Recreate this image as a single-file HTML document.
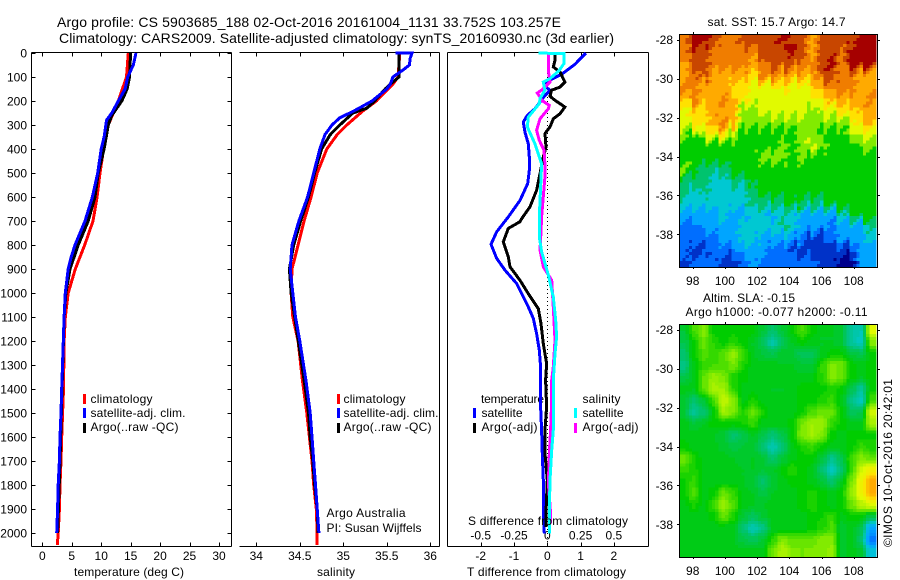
<!DOCTYPE html>
<html>
<head>
<meta charset="utf-8">
<title>Argo profile</title>
<style>
html,body{margin:0;padding:0;background:#fff;width:900px;height:580px;overflow:hidden}
svg{display:block;font-family:"Liberation Sans",sans-serif;fill:#000}
text{font-size:12px;fill:#000}
.t14{font-size:14px}
</style>
</head>
<body>
<svg id="chart" width="900" height="580" viewBox="0 0 900 580" xmlns="http://www.w3.org/2000/svg">
  <rect width="900" height="580" fill="#fff"/>
  <text class="t14" x="57" y="27" textLength="504">Argo profile: CS 5903685_188 02-Oct-2016 20161004_1131 33.752S 103.257E</text>
  <text class="t14" x="59" y="43" textLength="555">Climatology: CARS2009. Satellite-adjusted climatology: synTS_20160930.nc (3d earlier)</text>

  <g id="maps"></g>
  <g id="axes"></g>

  <g>
    <rect x="83" y="394" width="3" height="10" fill="#f00"/>
    <text x="90.5" y="403" textLength="62">climatology</text>
    <rect x="83" y="408" width="3" height="10" fill="#00f"/>
    <text x="90.5" y="417" textLength="95">satellite-adj. clim.</text>
    <rect x="83" y="423" width="3" height="10" fill="#000"/>
    <text x="90.5" y="431" textLength="88">Argo(..raw -QC)</text>
  </g>
  <g>
    <rect x="337" y="394" width="3" height="10" fill="#f00"/>
    <text x="343.5" y="403" textLength="62">climatology</text>
    <rect x="337" y="408" width="3" height="10" fill="#00f"/>
    <text x="343.5" y="417" textLength="95">satellite-adj. clim.</text>
    <rect x="337" y="423" width="3" height="10" fill="#000"/>
    <text x="343.5" y="431" textLength="88">Argo(..raw -QC)</text>
  </g>
  <g>
    <text x="481" y="403" textLength="63">temperature</text>
    <rect x="473" y="408" width="3" height="10" fill="#00f"/>
    <text x="481.5" y="417" textLength="41">satellite</text>
    <rect x="473" y="423" width="3" height="10" fill="#000"/>
    <text x="481.5" y="431" textLength="56">Argo(-adj)</text>
    <text x="582.5" y="403" textLength="38">salinity</text>
    <rect x="574" y="408" width="3" height="10" fill="#0ff"/>
    <text x="582.5" y="417" textLength="41">satellite</text>
    <rect x="574" y="423" width="3" height="10" fill="#f0f"/>
    <text x="582.5" y="431" textLength="56">Argo(-adj)</text>
  </g>

  <g id="lines"></g>

  <text x="74" y="576" textLength="110">temperature (deg C)</text>
  <text x="317" y="576" textLength="38">salinity</text>
  <text x="467" y="576" textLength="159">T difference from climatology</text>
  <text x="468" y="525" textLength="160">S difference from climatology</text>
  <text x="326.5" y="517" textLength="79">Argo Australia</text>
  <text x="326.5" y="532" textLength="95">PI: Susan Wijffels</text>
  <text x="707.5" y="26" textLength="138">sat. SST: 15.7 Argo: 14.7</text>
  <text x="703" y="302" textLength="92">Altim. SLA: -0.15</text>
  <text x="685.5" y="316" textLength="182">Argo h1000: -0.077 h2000: -0.11</text>
  <text transform="translate(892 547) rotate(-90)" textLength="168">©IMOS 10-Oct-2016 20:42:01</text>
</svg>

<script>
// ---------- profile data (depth in dbar) ----------
const tempDepthTicks = [0,100,200,300,400,500,600,700,800,900,1000,1100,1200,1300,1400,1500,1600,1700,1800,1900,2000];
const temperatureTicks = [0,5,10,15,20,25,30];
const salinityTicks = [34,34.5,35,35.5,36];
const salinityTickLabels = ['34','34.5','35','35.5','36'];
const tDiffTicks = [-2,-1,0,1,2];
const sDiffTicks = [-0.5,-0.25,0,0.25,0.5];
const sDiffTickLabels = ['-0.5','-0.25','0','0.25','0.5'];
const lonTicks = [98,100,102,104,106,108];
const latTicks = [-28,-30,-32,-34,-36,-38];

const climTempDepth = [0,100,200,300,400,500,600,700,800,900,1000,1100,1200,1400,1500,1600,1700,1800,1900,2000,2050];
const climTemp = [14.6,14.3,12.9,11.2,10.4,9.8,9.3,8.6,7.2,5.6,4.4,3.9,3.7,3.6,3.45,3.3,3.18,3.0,2.9,2.7,2.55];
const satTempDepth = [0,50,100,150,200,250,280,350,400,500,600,700,800,850,900,1000,1100,1400,1500,1600,1700,1800,1900,2000];
const satTemp = [15.9,15.45,14.5,14.05,12.9,11.8,10.9,10.5,10,9.4,8.5,7.25,5.55,4.9,4.4,3.9,3.7,3.3,3.18,3,2.9,2.7,2.6,2.45];
const argoTempDepth = [0,100,150,200,260,300,400,500,600,700,800,900,1000,1100,1400,1700,2000];
const argoTemp = [15,14.8,14.4,13.5,11.8,11.2,10.5,9.5,8.95,7.8,6.1,4.7,4,3.7,3.35,3,2.6];

const climSalDepth = [0,100,130,200,240,300,340,400,500,600,700,800,900,1000,1100,1200,1363,1500,1600,1700,1800,1900,2000,2050];
const climSal = [35.65,35.63,35.57,35.38,35.23,35.04,34.93,34.81,34.70,34.63,34.55,34.48,34.41,34.40,34.42,34.48,34.53,34.58,34.61,34.64,34.66,34.69,34.70,34.70];
const satSalDepth = [0,0,20,50,70,100,130,150,200,240,270,300,340,400,500,600,700,800,900,1000,1100,1200,1363,1500,1600,1700,1800,1900,2000];
const satSal = [35.60,35.79,35.77,35.76,35.69,35.57,35.54,35.50,35.33,35.13,34.96,34.87,34.79,34.73,34.66,34.59,34.49,34.41,34.39,34.42,34.45,34.50,34.57,34.62,34.64,34.66,34.68,34.70,34.72];
const argoSalDepth = [0,100,130,150,200,230,250,300,340,400,500,600,700,800,900,1000,1363,1500,1600,1700,1800,1900,2000];
const argoSal = [35.64,35.64,35.54,35.48,35.36,35.27,35.11,34.96,34.85,34.75,34.67,34.60,34.51,34.43,34.38,34.40,34.55,34.60,34.62,34.65,34.67,34.70,34.71];

const satDiffTDepth = [0,47,86,121,142,155,186,232,260,288,330,378,433,489,544,614,683,745,797,856,905,961,1058,1106,1169,1238,1308,1363,1474,1571,1670,1780,1915,2002];
const satDiffT = [1.16,.83,.46,-.02,-.04,.08,-.12,-.37,-.6,-.72,-.67,-.57,-.54,-.54,-.59,-.82,-1.17,-1.52,-1.69,-1.52,-1.27,-.92,-.57,-.42,-.32,-.24,-.2,-.2,-.2,-.17,-.15,-.12,-.12,-.09];
const argoDiffTDepth = [0,30,58,79,121,142,155,180,197,225,253,274,308,336,392,433,503,572,641,690,703,731,787,849,891,947,1003,1065,1128,1211,1294,1363,1474,1570,1670,1780,1915,1975];
const argoDiffT = [.23,.23,.18,.38,.53,.38,.13,.08,.23,.53,.38,.18,.08,-.07,-.04,-.12,-.22,-.32,-.52,-.77,-.82,-1.17,-1.32,-1.17,-1.12,-.82,-.57,-.27,-.19,-.12,-.02,-.05,-.02,-.07,-.07,0,-.04,-.04];
const satDiffSDepth = [0,3,44,72,107,121,155,190,211,267,308,378,461,530,683,766,828,926,1017,1114,1183,1253,1363,1474,1571,1655,1780,1919,2002];
const satDiffS = [-.065,.125,.125,.09,.02,-.03,-.018,-.055,-.06,-.143,-.15,-.093,-.043,-.048,-.06,-.06,-.043,.008,.045,.063,.07,.058,.045,.045,.045,.033,.02,.015,.015];
const argoDiffSDepth = [3,72,121,149,167,183,197,218,232,274,322,364,405,461,517,683,752,821,891,947,1058,1197,1308,1363,1446,1571,1669,1794,1919,1960];
const argoDiffS = [.0075,.0075,.02,-.03,-.075,-.055,-.043,.015,.008,-.055,-.08,-.06,-.025,-.018,-.018,-.043,-.048,-.055,-.03,.033,.045,.058,.045,.033,.033,.025,.015,.008,.025,.025];

// ---------- map data: colour level per cell, top row = 28S, left col = 97.2E ----------
const sstGrid = [
[11,13,13,12,11,11,12,12,12,12,13,12,12,10,12,12,12,12,13,13],
[11,12,12,11,11,11,11,11,12,12,12,13,12,10,12,12,11,13,13,13],
[10,12,12,11,11,11,11,10,11,12,12,12,11,11,12,13,11,13,13,13],
[10,11,12,10,10,10,10,9,11,11,10,10,10,10,12,12,11,11,10,10],
[11,11,10,10,10,9,9,8,8,8,9,8,8,9,10,11,11,11,10,10],
[9,11,10,10,11,10,9,8,8,8,8,8,8,8,9,10,10,10,10,11],
[8,9,9,10,10,10,7,7,8,8,8,8,8,7,8,8,9,9,10,10],
[8,9,9,10,11,10,7,7,7,7,7,7,7,7,7,7,7,8,9,10],
[7,6,8,9,9,7,6,6,6,6,6,6,7,7,6,6,6,7,8,8],
[6,6,6,6,6,6,6,6,6,6,7,6,7,8,7,6,6,6,7,7],
[6,6,6,6,6,6,6,6,7,7,7,6,7,6,6,6,6,6,6,6],
[7,6,5,5,5,6,6,6,6,6,6,6,6,6,6,6,6,6,6,6],
[5,5,5,4,4,5,5,6,6,6,6,6,6,6,6,6,6,6,6,6],
[5,4,5,4,4,4,4,5,6,6,6,6,6,6,6,6,6,6,6,6],
[4,4,4,4,4,4,4,5,5,5,5,6,5,5,5,6,6,6,6,6],
[3,3,3,3,4,3,3,4,4,3,4,4,3,3,3,3,4,5,6,6],
[2,2,3,3,3,3,4,4,4,4,5,4,3,3,3,2,3,3,3,5],
[2,2,2,2,3,3,4,4,3,3,3,3,2,1,1,2,3,3,3,4],
[2,1,1,2,2,2,3,3,3,2,2,1,1,1,1,1,1,1,3,3],
[1,2,2,2,1,1,2,3,2,2,2,2,2,2,1,1,0,0,3,3]
];
const slaGrid = [
[5.5,6.5,7,6,6,6,6,6,5.5,5,5.5,6,6.5,6,5.7,5.7,5.5,4.5,4.3,8],
[5.3,6,6.8,6.3,6,6.3,6,5.7,5.2,4.4,5.2,5.7,6,5.8,5.7,5.7,5.5,4.5,4.2,7],
[5,6,6.6,6.3,6.7,7.2,6.5,5.7,5.5,5.3,5.6,5.5,5.2,5.2,5.7,6,6,5.5,5.3,6],
[4.8,5.8,6.4,6.5,6.5,6.9,6.2,5.8,5.8,5.8,5.7,5.7,5.5,5.5,6.3,6.9,6.9,6,5.8,6],
[5.3,5.8,6.7,7.2,6.9,6.2,6,5.8,5.8,5.8,5.8,5.8,5.8,5.8,6.3,7,6.8,6,5.7,6],
[5.8,5.7,6.7,7.4,7.3,6.3,5.8,5.8,5.7,5.7,5.7,5.8,6,6,6,6.2,6,5.3,4.6,6],
[5.6,5,5.5,6.5,7.7,7.1,5.8,6.2,5.8,5.7,5.7,5.8,6,6,6.2,6.4,5.8,4.8,4.2,6.5],
[5.5,4.6,5,5.9,7.3,6.9,6.2,6.8,6.2,5.8,5.8,5.8,6.1,6.6,6.8,6.8,6,5.2,5.3,7.8],
[5.8,5.5,5.7,6,6,6,6.1,6.4,5.8,5.8,5.8,6,6.9,7.3,7.2,6.4,6,5.8,5.8,7.3],
[5.8,5.8,5.8,5.7,5.5,5,5.3,5.7,5.3,4.9,5.3,6,7,7.3,7,6,5.8,6,6,6],
[6,5.8,5.8,5.8,5.6,5.4,5.5,5.6,5,4.3,4.9,5.8,6.2,6.4,6,5.8,5.8,6,6.4,6.2],
[6.8,6.2,5.8,5.8,5.8,5.7,5.6,5.7,5.5,5,5.5,5.8,6,6,5.5,4.7,5.3,6.4,7,6.7],
[6.4,6.2,5.8,5.8,5.8,5.8,5.7,5.7,5.5,5.6,6,6.3,6,5.8,5,4.2,5,6.4,7.8,8.5],
[6,6.4,5.8,5.8,5.8,5.8,5.7,5.5,5,5.5,5.8,6,6,5.8,5.5,5,5.7,6.9,8.3,10],
[6,6.6,5.8,6,6.8,6.4,5.8,5.7,5.4,5.7,5.8,5.8,6,6.2,6,5.8,6,7.2,8.3,10],
[5.8,6.2,5.8,6.4,7.2,6.6,5.8,5.7,5.7,5.8,5.8,5.8,6,6.3,6,5.8,6,6.8,7.5,8],
[5.8,5.8,5.8,6,6.8,6.2,5.5,5.2,5.5,5.8,5.8,5.8,5.8,6,6.1,6.4,5.8,6,6,5.3],
[5.8,5.8,5.8,5.8,5.8,5.7,5,4.3,4.8,5.7,5.8,5.8,5.8,6,6.2,6.6,5.6,5.8,5.3,3],
[5.8,5.8,5.8,5.8,5.8,5.7,5.4,5.2,5.5,6.3,7,6.7,6.7,6.7,7,7,5.6,5.8,5,2.2],
[5.8,5.8,5.8,5.8,5.8,5.8,5.8,5.8,5.8,6.8,7.5,7,6.9,7,7,7.2,5.6,5.8,5.6,3.8]
];
const paletteStops = [[0,0,140],[0,50,200],[0,110,255],[0,165,255],[0,200,210],[0,195,110],[0,205,0],[130,235,0],[225,250,0],[255,225,0],[255,170,0],[240,125,0],[200,70,0],[165,0,0]];

// ---------- axis functions ----------
const NS = 'http://www.w3.org/2000/svg';
const yDepth = d => 53 + d * 0.24;
const xTemp = t => 42.3 + t * 5.89;
const xSal = s => 256.3 + (s - 34) * 87;
const xDiffT = t => 547.3 + t * 33.3;
const xDiffS = s => 547.3 + s * 133.2;
const xLon = lon => 692.7 + (lon - 98) * 16.1;
const yLatTop = lat => 39.7 + (-28 - lat) * 19.47;
const yLatBot = lat => 329.7 + (-28 - lat) * 19.47;

function mk(tag, attrs, parent) {
  const el = document.createElementNS(NS, tag);
  for (const k in attrs) el.setAttribute(k, attrs[k]);
  parent.appendChild(el);
  return el;
}
function seg(x1, y1, x2, y2, parent) {
  return mk('line', {x1: x1, y1: y1, x2: x2, y2: y2, stroke: '#000', 'stroke-width': 1, 'shape-rendering': 'crispEdges'}, parent);
}
function px(v) { return Math.round(v) + 0.5; }

function levelColor(v) {
  const lo = Math.max(0, Math.min(paletteStops.length - 1, Math.floor(v)));
  const hi = Math.min(paletteStops.length - 1, lo + 1);
  const f = Math.max(0, Math.min(1, v - lo));
  const c = [0, 1, 2].map(i => Math.round(paletteStops[lo][i] + (paletteStops[hi][i] - paletteStops[lo][i]) * f));
  return 'rgb(' + c.join(',') + ')';
}

// ---------- line profiles ----------
const linesG = document.getElementById('lines');
function drawProfile(name, depths, vals, xf, color, width) {
  const pts = vals.map((v, i) => xf(v).toFixed(1) + ',' + yDepth(depths[i]).toFixed(1)).join(' ');
  const el = mk('polyline', {points: pts, fill: 'none', stroke: color, 'stroke-width': width, 'shape-rendering': 'crispEdges', 'stroke-linejoin': 'miter'}, linesG);
  
  
}
drawProfile('temperature-climatology-line', climTempDepth, climTemp, xTemp, '#f00', 3);
drawProfile('temperature-argo-line', argoTempDepth, argoTemp, xTemp, '#000', 3);
drawProfile('temperature-satellite-line', satTempDepth, satTemp, xTemp, '#00f', 3);
drawProfile('salinity-climatology-line', climSalDepth, climSal, xSal, '#f00', 3);
drawProfile('salinity-argo-line', argoSalDepth, argoSal, xSal, '#000', 3);
drawProfile('salinity-satellite-line', satSalDepth, satSal, xSal, '#00f', 3);

const zeroLine = mk('line', {x1: 547.5, y1: 53, x2: 547.5, y2: 546, stroke: '#000', 'stroke-width': 1, 'stroke-dasharray': '1 3', 'shape-rendering': 'crispEdges'}, linesG);



drawProfile('t-difference-satellite-line', satDiffTDepth, satDiffT, xDiffT, '#00f', 3);
drawProfile('t-difference-argo-line', argoDiffTDepth, argoDiffT, xDiffT, '#000', 3);
drawProfile('s-difference-argo-line', argoDiffSDepth, argoDiffS, xDiffS, '#f0f', 3);
drawProfile('s-difference-satellite-line', satDiffSDepth, satDiffS, xDiffS, '#0ff', 3);

// ---------- axes ----------
const axesG = document.getElementById('axes');
function label(str, x, y, anchor, parent) {
  const t = mk('text', {x: x, y: y, 'text-anchor': anchor}, parent);
  t.textContent = str;
  return t;
}
function panelFrame(name, left, right, showLeft, xTicks, xf, xLabels, depthRightTicks) {
  const g = mk('g', {}, axesG);
  
  
  const top = 52.5, bot = 546.5;
  seg(left, top, right, top, g);
  seg(left, bot, right, bot, g);
  seg(right, top, right, bot, g);
  if (showLeft) seg(left, top, left, bot, g);
  xTicks.forEach((t, i) => {
    const x = px(xf(t));
    seg(x, top, x, top + 4, g);
    seg(x, bot - 4, x, bot, g);
    const lab = label(xLabels[i], xf(t), 560, 'middle', g);
    
    
  });
  if (depthRightTicks) {
    tempDepthTicks.forEach(d => {
      const y = px(yDepth(d));
      seg(left, y, left + 4, y, g);
      seg(right - 4, y, right, y, g);
      const lab = label(String(d), 27, yDepth(d) + 4.5, 'end', g);
      
      
    });
  }
  return g;
}
panelFrame('temperature-axes', 31.5, 231.5, true, temperatureTicks, xTemp, temperatureTicks.map(String), true);
panelFrame('salinity-axes', 239.5, 439.5, false, salinityTicks, xSal, salinityTickLabels, false);
const diffAxes = panelFrame('difference-axes', 447.5, 648.5, true, tDiffTicks, xDiffT, tDiffTicks.map(String), false);
sDiffTicks.forEach((s, i) => {
  const lab = label(sDiffTickLabels[i], xDiffS(s), 539.5, 'middle', diffAxes);
  
  
});

// ---------- maps ----------
const mapsG = document.getElementById('maps');
function sampleGrid(grid, u, v) {
  const rows = grid.length, cols = grid[0].length;
  const cu = Math.max(0, Math.min(cols - 1.001, u));
  const cv = Math.max(0, Math.min(rows - 1.001, v));
  const i = Math.floor(cu), j = Math.floor(cv);
  const fu = cu - i, fv = cv - j;
  const su = fu * fu * (3 - 2 * fu), sv = fv * fv * (3 - 2 * fv);
  const a = grid[j][i] * (1 - su) + grid[j][i + 1] * su;
  const b = grid[j + 1][i] * (1 - su) + grid[j + 1][i + 1] * su;
  return a * (1 - sv) + b * sv;
}
function drawMap(name, grid, top, bottom, yLat, quantise) {
  const g = mk('g', {}, mapsG);
  
  
  const left = 679, right = 876;
  const rows = grid.length, cols = grid[0].length;
  const subX = 3, subPx = 3;
  const nx = cols * subX, ny = Math.round((bottom - top) / subPx);
  const sw = (right - left) / nx, sh = (bottom - top) / ny;
  for (let sx = 0; sx < nx; sx++) {
    let runStart = 0, runColor = null;
    for (let sy = 0; sy <= ny; sy++) {
      let color = null;
      if (sy < ny) {
        const u = (sx + 0.5) / subX - 0.5;
        let v = (sy + 0.5) * rows / ny - 0.5;
        let val;
        if (quantise) {
          v += ((sx % 4) - 1.5) * 0.3;
          const w = u + ((sy % 3) - 1) * 0.2;
          val = Math.round(sampleGrid(grid, w, v));
        } else {
          val = Math.round(sampleGrid(grid, u, v) * 5) / 5;
        }
        color = levelColor(val);
      }
      if (color !== runColor) {
        if (runColor !== null) {
          const cell = mk('rect', {x: (left + sx * sw).toFixed(2), y: (top + runStart * sh).toFixed(2), width: (sw + 0.5).toFixed(2), height: ((sy - runStart) * sh + 0.5).toFixed(2), fill: runColor, 'shape-rendering': 'crispEdges'}, g);
          
          
        }
        runColor = color;
        runStart = sy;
      }
    }
  }
  mk('rect', {x: 876.5, y: top, width: 1, height: bottom - top, fill: '#fff'}, g);
  const f = mk('rect', {x: 679.5, y: top - 0.5, width: 198, height: bottom - top + 1, fill: 'none', stroke: '#000', 'stroke-width': 1, 'shape-rendering': 'crispEdges'}, g);
  
  
  lonTicks.forEach(lon => {
    const x = px(xLon(lon));
    seg(x, top - 3, x, top, g);
    seg(x, bottom, x, bottom + 2, g);
    const lab = label(String(lon), xLon(lon), bottom + 18, 'middle', g);
    
    
  });
  latTicks.forEach(lat => {
    const y = px(yLat(lat));
    seg(677, y, 679.5, y, g);
    seg(877.5, y, 880, y, g);
    const lab = label(String(lat), 673, yLat(lat) + 4.5, 'end', g);
    
    
  });
}
drawMap('sst-map', sstGrid, 35, 267, yLatTop, true);
drawMap('sla-map', slaGrid, 325, 557, yLatBot, false);
</script>
</body>
</html>
